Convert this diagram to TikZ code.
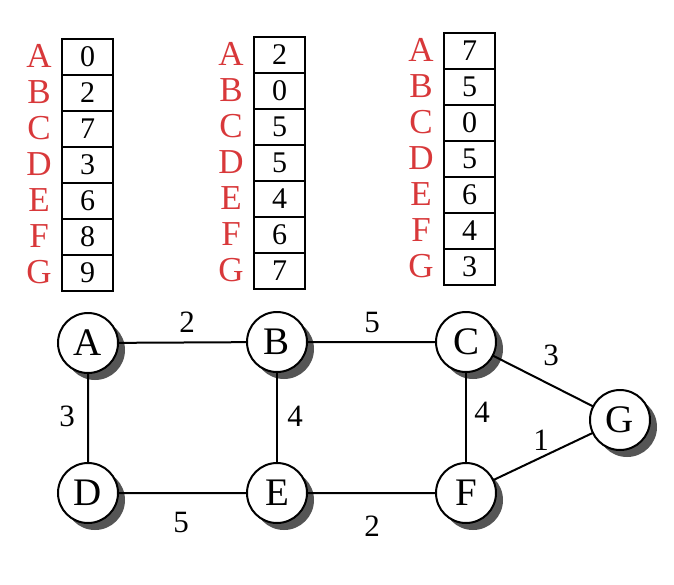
\documentclass[tikz,border=0pt]{standalone}
\usepackage{fontspec}
\setmainfont{Liberation Serif}
\definecolor{lblred}{HTML}{D8383A}
\definecolor{shad}{HTML}{555555}
\begin{document}
\begin{tikzpicture}[x=1pt,y=-1pt,
  cell/.style={draw,line width=2pt,minimum width=51pt,minimum height=36pt,inner sep=0pt,font=\fontsize{30}{30}\selectfont,anchor=north west},
  rowlbl/.style={text=lblred,font=\fontsize{35}{35}\selectfont,inner sep=0pt},
  vert/.style={circle,draw,line width=2pt,fill=white,minimum size=60pt,inner sep=0pt,font=\fontsize{39}{39}\selectfont},
  shadowc/.style={circle,fill=shad,minimum size=60pt,inner sep=0pt},
  edge/.style={line width=2pt},
  elbl/.style={font=\fontsize{31}{31}\selectfont,inner sep=0pt}]
\useasboundingbox (0,0) rectangle (674,584);
% tables
\foreach \tab/\x/\y/\vals in {1/61/38/{0,2,7,3,6,8,9},2/253/36/{2,0,5,5,4,6,7},3/443/32/{7,5,0,5,6,4,3}}{
  \foreach \v [count=\i] in \vals {
    \pgfmathsetmacro{\yy}{\y+(\i-1)*36}
    \node[cell] (t\tab r\i) at (\x,\yy) {\v};
  }
  \foreach \l [count=\i] in {A,B,C,D,E,F,G}{
    \pgfmathsetmacro{\yy}{\y+(\i-1)*36+18}
    \node[rowlbl] (t\tab l\i) at (\x-22,\yy) {\l};
  }
}
% shadows
\foreach \n/\px/\py in {A/88/343,B/277/342,C/466/342,G/620/420,D/88/493,E/277/493,F/466/493}{
  \node[shadowc] (s\n) at (\px+7,\py+7) {};
}
% edges drawn under vertices
\coordinate (cA) at (88,343);
\coordinate (cB) at (277,342);
\coordinate (cC) at (466,342);
\coordinate (cG) at (620,420);
\coordinate (cD) at (88,493);
\coordinate (cE) at (277,493);
\coordinate (cF) at (466,493);
\draw[edge] (cA) -- (cB) -- (cC) -- (cG) -- (cF) -- (cE) -- (cD) -- (cA);
\draw[edge] (cB) -- (cE);
\draw[edge] (cC) -- (cF);
% vertices
\node[vert] (A) at (cA) {A};
\node[vert] (B) at (cB) {B};
\node[vert] (C) at (cC) {C};
\node[vert] (G) at (cG) {G};
\node[vert] (D) at (cD) {D};
\node[vert] (E) at (cE) {E};
\node[vert] (F) at (cF) {F};
% edge labels
\node[elbl] (lAB) at (187,322) {2};
\node[elbl] (lBC) at (372,322) {5};
\node[elbl] (lCG) at (551,355) {3};
\node[elbl] (lAD) at (67,416) {3};
\node[elbl] (lBE) at (295,416) {4};
\node[elbl] (lCF) at (482,412) {4};
\node[elbl] (lFG) at (541,440) {1};
\node[elbl] (lDE) at (181,522) {5};
\node[elbl] (lEF) at (372,526) {2};
\end{tikzpicture}
\end{document}
